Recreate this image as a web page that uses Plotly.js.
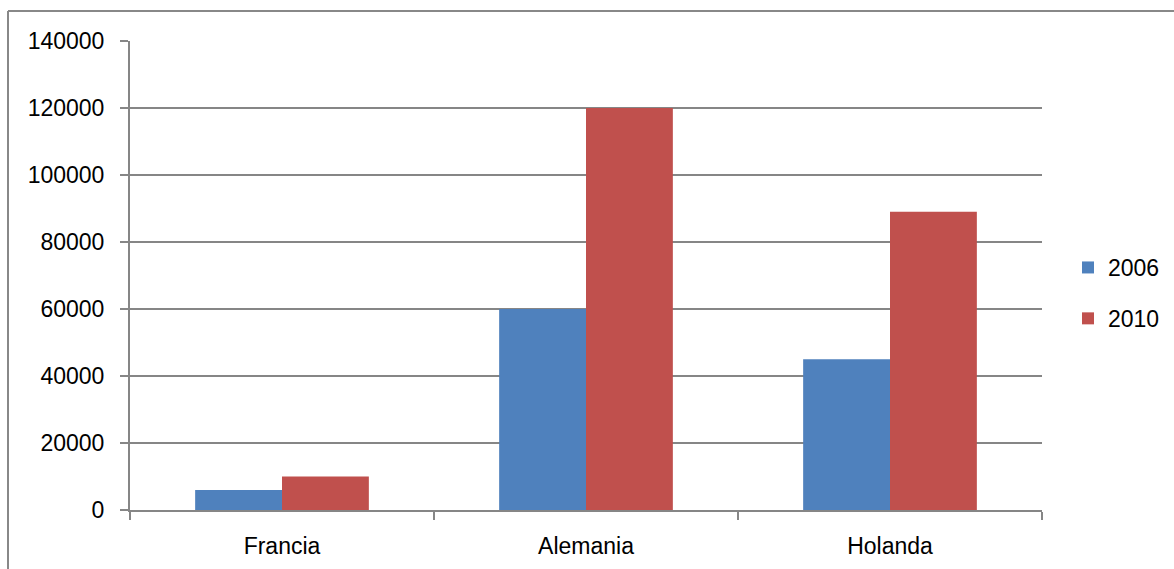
<!DOCTYPE html>
<html>
<head>
<meta charset="utf-8">
<script src="https://cdn.plot.ly/plotly-3.0.1.min.js"></script>
<style>
html,body{margin:0;padding:0;background:#fff;}
#chart{width:1174px;height:569px;}
</style>
</head>
<body>
<div id="chart"></div>
<script>
const categories = ["Francia", "Alemania", "Holanda"];
const values2006 = [6000, 60000, 45000];
const values2010 = [10000, 120000, 89000];
const seriesNames = ["2006", "2010"];
const yTicks = [0, 20000, 40000, 60000, 80000, 100000, 120000, 140000];

const W = 1174, H = 569;
const mL = 130, mR = 132, mT = 41, mB = 59;
const pw = W - mL - mR, ph = H - mT - mB;
const px = v => (v - mL) / pw;
const py = v => (H - mB - v) / ph;

const traces = [
  {type: "bar", name: seriesNames[0], x: categories, y: values2006, legendgroup: "a",
   marker: {color: "#4F81BD"}, hoverinfo: "skip"},
  {type: "bar", name: seriesNames[1], x: categories, y: values2010, legendgroup: "b",
   marker: {color: "#C0504D"}, hoverinfo: "skip"}
];

const layout = {
  width: W, height: H,
  margin: {l: mL, r: mR, t: mT, b: mB, pad: 0, autoexpand: false},
  paper_bgcolor: "#ffffff", plot_bgcolor: "#ffffff",
  font: {family: "Liberation Sans, Arial, sans-serif", size: 23, color: "#000"},
  barmode: "group", bargap: 0.4286, bargroupgap: 0,
  showlegend: true,
  legend: {x: px(1068), xanchor: "left", y: py(293), yanchor: "middle",
           traceorder: "grouped", tracegroupgap: 18,
           font: {size: 23}, bgcolor: "rgba(0,0,0,0)", itemwidth: 30},
  xaxis: {type: "category", showgrid: false, showline: true, linecolor: "#868686", linewidth: 2,
          ticks: "outside", tickson: "boundaries", ticklen: 8, tickcolor: "#868686", tickwidth: 2,
          ticklabelstandoff: 14, zeroline: false, fixedrange: true, automargin: false},
  yaxis: {range: [0, 140000], tickvals: yTicks, ticktext: yTicks.map(String),
          showgrid: true, gridcolor: "#868686", gridwidth: 1.5,
          showline: true, linecolor: "#868686", linewidth: 2,
          ticks: "outside", ticklen: 8, tickcolor: "#868686", tickwidth: 2,
          ticklabelstandoff: 11, zeroline: false, fixedrange: true, automargin: false},
  shapes: [
    {type: "line", xref: "paper", yref: "paper", x0: px(8), x1: px(1180), y0: py(11), y1: py(11),
     line: {color: "#888888", width: 2}},
    {type: "line", xref: "paper", yref: "paper", x0: px(8), x1: px(8), y0: py(11), y1: py(575),
     line: {color: "#888888", width: 2}}
  ]
};

Plotly.newPlot("chart", traces, layout, {staticPlot: true, displayModeBar: false});
</script>
</body>
</html>
